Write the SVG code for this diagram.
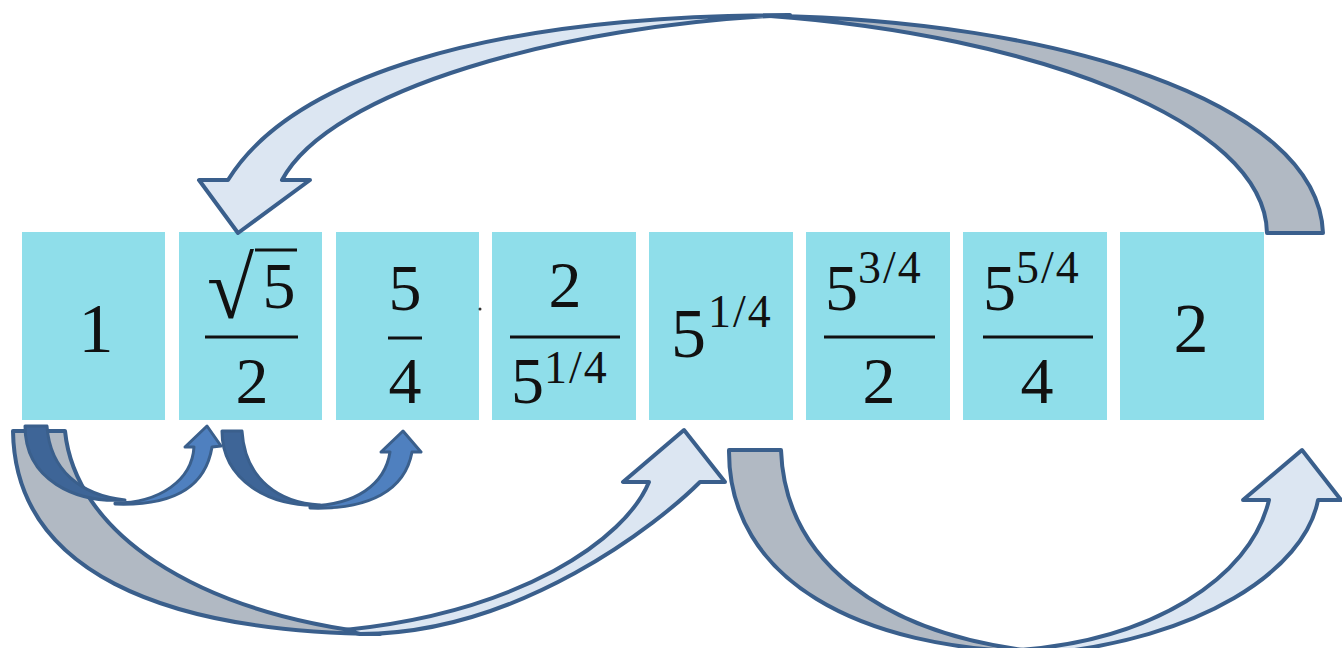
<svg xmlns="http://www.w3.org/2000/svg" width="1342" height="648" viewBox="0 0 1342 648">
<style>
.box{fill:#8fdeea}
.m{font-family:"Liberation Serif","Times New Roman",serif;font-size:66px;fill:#111}
.big{font-size:70px}
.sup{font-family:"Liberation Serif","Times New Roman",serif;font-size:46px;fill:#111;letter-spacing:2px}
.bar{stroke:#111;stroke-width:3}
.ol{stroke:#3a5f8c;stroke-width:4;stroke-linejoin:round}
.ols{stroke:#3a5f8c;stroke-width:3;stroke-linejoin:round}
.gray{fill:#b1b9c3}
.light{fill:#dce6f2}
.dark{fill:#3e6597}
.blue{fill:#4f80bf}
</style>
<g id="n1"><rect class="box" x="22" y="232" width="143" height="188"/><text class="m big" x="96" y="352" text-anchor="middle">1</text></g>
<g id="n2"><rect class="box" x="179" y="232" width="143" height="188"/>
<text class="m" font-size="74" transform="translate(207,318) scale(1.3,1.32)">√</text>
<line class="bar" x1="255" y1="250" x2="297" y2="250"/>
<text class="m" x="279" y="308" text-anchor="middle">5</text>
<line class="bar" x1="205" y1="337" x2="298" y2="337"/>
<text class="m" x="252" y="403" text-anchor="middle">2</text></g>
<g id="n3"><rect class="box" x="336" y="232" width="143" height="188"/>
<text class="m" x="405" y="310" text-anchor="middle">5</text>
<line class="bar" x1="388" y1="338" x2="422" y2="338"/>
<text class="m" x="405" y="403" text-anchor="middle">4</text></g>
<g id="n4"><rect class="box" x="492" y="232" width="144" height="188"/>
<text class="m" x="565" y="307" text-anchor="middle">2</text>
<line class="bar" x1="510" y1="337" x2="620" y2="337"/>
<text class="m" x="511" y="403">5</text>
<text class="sup" x="544" y="383">1/4</text></g>
<g id="n5"><rect class="box" x="649" y="232" width="144" height="188"/>
<text class="m big" x="671" y="357">5</text>
<text class="sup" x="708" y="327">1/4</text></g>
<g id="n6"><rect class="box" x="806" y="232" width="144" height="188"/>
<text class="m" x="825" y="310">5</text>
<text class="sup" x="858" y="283">3/4</text>
<line class="bar" x1="824" y1="337" x2="935" y2="337"/>
<text class="m" x="879" y="403" text-anchor="middle">2</text></g>
<g id="n7"><rect class="box" x="963" y="232" width="144" height="188"/>
<text class="m" x="983" y="310">5</text>
<text class="sup" x="1016" y="283">5/4</text>
<line class="bar" x1="983" y1="337" x2="1093" y2="337"/>
<text class="m" x="1037" y="403" text-anchor="middle">4</text></g>
<g id="n8"><rect class="box" x="1120" y="232" width="144" height="188"/><text class="m big" x="1191" y="352" text-anchor="middle">2</text></g>
<circle cx="480" cy="309" r="1.5" fill="#333"/>
<g id="connectors">
<g id="a-top">
<path class="gray ol" d="M1267,233 L1323,233 C1318,100 1050,20 770,16 C1030,35 1265,120 1267,233 Z"/>
<path class="light ol" d="M228,180 C290,80 480,15 790,15 C560,25 330,90 282,180 L310,180 L238,233 L199,180 Z"/>
</g>
<g id="a-big-left">
<path class="gray ol" d="M13,431 L65,431 C75,530 190,612 380,634 C160,632 15,570 13,431 Z"/>
<path class="light ol" d="M360,634 C520,634 660,522 700,482 L725,482 L684,430 L623,482 L649,482 C625,540 520,612 345,630 Z"/>
</g>
<g id="a-big-right">
<path class="gray ol" d="M729,450 L781,450 C785,560 880,635 1040,652 C860,650 728,580 729,450 Z"/>
<path class="light ol" d="M1020,650 C1150,640 1250,580 1269,500 L1243,500 L1302,450 L1341,500 L1318,500 C1305,570 1200,640 1040,654 Z"/>
</g>
<g id="a-small-1">
<path class="dark ols" d="M25,426 L47,426 C50,470 80,495 125,500 C75,503 25,480 25,426 Z"/>
<path class="blue ols" d="M115,503 C160,503 192,480 194,447 L185,447 L207,426 L221,446 L212,447 C205,490 170,506 115,504 Z"/>
</g>
<g id="a-small-2">
<path class="dark ols" d="M222,431 L242,431 C245,480 280,503 320,505 C270,508 222,480 222,431 Z"/>
<path class="blue ols" d="M310,506 C355,505 385,485 390,452 L381,452 L403,431 L421,452 L412,452 C405,490 370,510 310,508 Z"/>
</g>
</g>
</svg>
